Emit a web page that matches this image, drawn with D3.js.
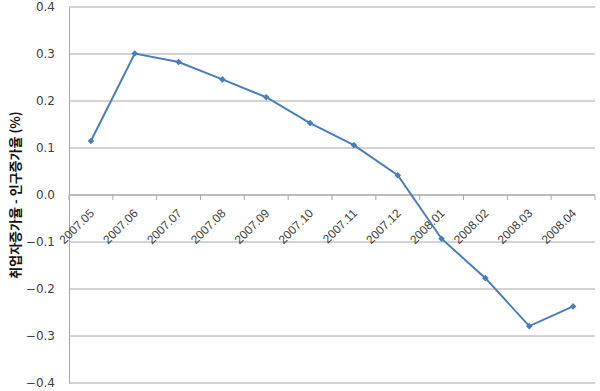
<!DOCTYPE html>
<html>
<head>
<meta charset="utf-8">
<script src="https://cdn.jsdelivr.net/npm/d3@7"></script>
<style>
  body { margin: 0; background: #fff; }
  text { font-family: "Liberation Sans", Arial, sans-serif; }
</style>
</head>
<body>
<svg id="chart" width="600" height="391"></svg>
<script>
var months = ["2007.05", "2007.06", "2007.07", "2007.08", "2007.09", "2007.10",
              "2007.11", "2007.12", "2008.01", "2008.02", "2008.03", "2008.04"];
var gapValues = [0.115, 0.301, 0.283, 0.246, 0.208, 0.153,
                 0.106, 0.042, -0.093, -0.177, -0.279, -0.237];
var yTicks = [0.4, 0.3, 0.2, 0.1, 0.0, -0.1, -0.2, -0.3, -0.4];
var yTitle = "취업자증가율 - 인구증가율 (%)";

var margin = {top: 7, right: 5, bottom: 8, left: 69};
var width = 600 - margin.left - margin.right;
var height = 391 - margin.top - margin.bottom;

var svg = d3.select("#chart");
var g = svg.append("g")
  .attr("transform", "translate(" + margin.left + "," + margin.top + ")");

var xScale = d3.scaleBand().domain(months).range([0, width]);
var yScale = d3.scaleLinear().domain([-0.4, 0.4]).range([height, 0]);

// gridlines
g.selectAll("line.grid")
  .data(yTicks)
  .enter()
  .append("line")
  .attr("class", "grid")
  .attr("x1", 0)
  .attr("x2", width)
  .attr("y1", function(d) { return yScale(d); })
  .attr("y2", function(d) { return yScale(d); })
  .attr("stroke", "#a6a6a6")
  .attr("stroke-width", 1);

// y axis
var yAxis = g.append("g")
  .call(d3.axisLeft(yScale).tickValues(yTicks).tickFormat(d3.format(".1f")).tickSize(0).tickPadding(14));
yAxis.select(".domain").attr("stroke", "#a6a6a6");
yAxis.selectAll("text")
  .attr("fill", "#404040")
  .style("font-family", "'DejaVu Sans', sans-serif")
  .style("font-size", "12px");

// x axis at zero
var xAxis = g.append("g")
  .attr("transform", "translate(0," + yScale(0) + ")");
xAxis.append("line")
  .attr("x1", 0).attr("x2", width)
  .attr("stroke", "#a6a6a6");
var bounds = months.map(function(m) { return xScale(m); }).concat([width]);
xAxis.selectAll("line.tick")
  .data(bounds)
  .enter()
  .append("line")
  .attr("class", "tick")
  .attr("x1", function(d) { return d; })
  .attr("x2", function(d) { return d; })
  .attr("y1", 0).attr("y2", 5)
  .attr("stroke", "#a6a6a6");
xAxis.selectAll("text")
  .data(months)
  .enter()
  .append("text")
  .text(function(d) { return d; })
  .attr("text-anchor", "end")
  .attr("fill", "#404040")
  .style("font-size", "12px")
  .attr("transform", function(d) {
    return "translate(" + (xScale(d) + xScale.bandwidth() / 2 + 4) + ",19) rotate(-45)";
  });

// y title
svg.append("text")
  .text(yTitle)
  .attr("text-anchor", "middle")
  .attr("fill", "#111")
  .style("font-family", "'Noto Sans CJK KR', sans-serif")
  .style("font-size", "13px")
  .style("font-weight", "bold")
  .attr("transform", "translate(20," + (margin.top + yScale(0)) + ") rotate(-90)");

// line
var line = d3.line()
  .x(function(d, i) { return xScale(months[i]) + xScale.bandwidth() / 2; })
  .y(function(d) { return yScale(d); });

g.append("path")
  .datum(gapValues)
  .attr("d", line)
  .attr("fill", "none")
  .attr("stroke", "#4a7ebb")
  .attr("stroke-width", 2);

g.selectAll("path.marker")
  .data(gapValues)
  .enter()
  .append("path")
  .attr("class", "marker")
  .attr("d", d3.symbol().type(d3.symbolSquare).size(22))
  .attr("transform", function(d, i) {
    return "translate(" + (xScale(months[i]) + xScale.bandwidth() / 2) + "," + yScale(d) + ") rotate(45)";
  })
  .attr("fill", "#4a7ebb");
</script>
</body>
</html>
